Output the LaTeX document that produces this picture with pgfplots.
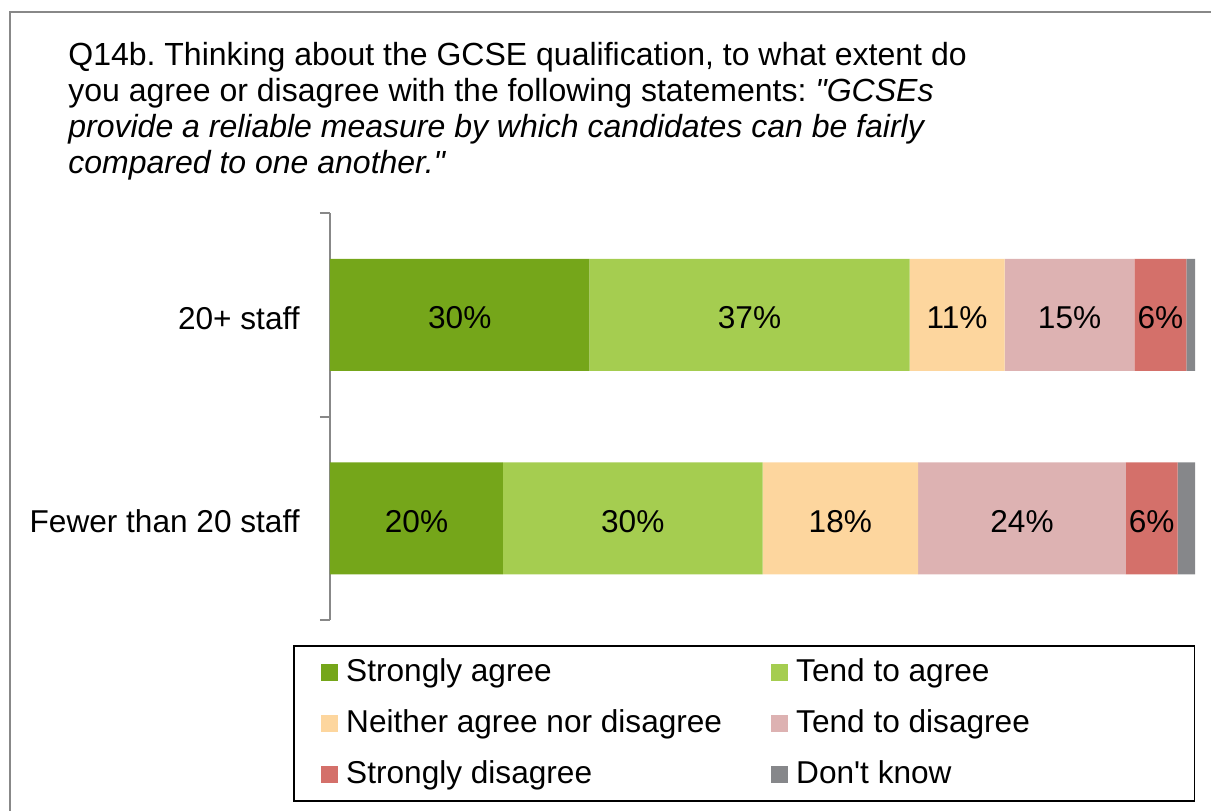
\documentclass[border=0pt]{standalone}
\usepackage{fontspec}
\setmainfont{Liberation Sans}
\usepackage{pgfplots}
\pgfplotsset{compat=1.18}

\definecolor{sagree}{HTML}{75A61A}
\definecolor{tagree}{HTML}{A5CD50}
\definecolor{neither}{HTML}{FDD69E}
\definecolor{tdis}{HTML}{DDB2B2}
\definecolor{sdis}{HTML}{D4706A}
\definecolor{dk}{HTML}{86878A}
\definecolor{frame}{HTML}{888888}

\newcommand\ff{\fontsize{15.8}{19}\selectfont}
\newcommand\tf{\fontsize{16}{19}\selectfont}

\pgfplotsset{
  sq legend/.style={legend image code/.code={\path (0pt,0pt); \fill[##1] (3.5pt,-4.5pt) rectangle (12pt,4pt);}},
  seg labels/.style={
    nodes near coords={\pgfmathprintnumber{\pgfplotspointmeta}\%},
    every node near coord/.style={anchor=center, yshift=-1.5pt, font=\ff, text=black}},
}

\begin{document}
\frenchspacing
\ff
\begin{tikzpicture}
\useasboundingbox (0,0) rectangle (605.5pt,-405pt);
\draw[frame, line width=1pt] (5pt,-406pt) -- (5pt,-6pt) -- (606pt,-6pt);

\node[anchor=base west, inner sep=0pt, font=\tf] at (34pt,-32.5pt) {Q14b. Thinking about the GCSE qualification, to what extent do};
\node[anchor=base west, inner sep=0pt, font=\tf] at (34pt,-50.5pt) {you agree or disagree with the following statements: \textit{\textquotedbl GCSEs}};
\node[anchor=base west, inner sep=0pt, font=\tf] at (34pt,-68.5pt) {\textit{provide a reliable measure by which candidates can be fairly}};
\node[anchor=base west, inner sep=0pt, font=\tf] at (34pt,-86.5pt) {\textit{compared to one another.\textquotedbl}};

\begin{axis}[
  at={(165pt,-310pt)}, anchor=south west,
  scale only axis, width=432.5pt, height=203.5pt,
  xbar stacked, bar width=56pt,
  xmin=0, xmax=100, ymin=-0.5, ymax=1.5,
  hide x axis,
  axis y line*=left,
  y axis line style={frame, line width=1pt},
  ytick={0,1},
  yticklabels={Fewer than 20 staff, 20+ staff},
  major tick length=0pt,
  yticklabel style={font=\ff, inner sep=0pt, xshift=-15pt, yshift=-1.5pt},
  extra y ticks={-0.5,0.5,1.5},
  extra y tick labels={},
  extra y tick style={major tick length=5pt, tick align=outside, tick style={frame, line width=1pt}},
  point meta=explicit,
  /pgf/number format/assume math mode=true,
  legend columns=2,
  legend style={at={(rel axis cs:1,0)}, anchor=north east, yshift=-12.5pt,
    draw=black, line width=0.75pt, font=\ff,
    inner xsep=10pt, inner ysep=5pt, row sep=9pt, column sep=4pt,
    /tikz/every even column/.append style={column sep=20pt},
    nodes={inner sep=0pt, text height=13pt, text depth=3.5pt}},
  legend cell align=left,
]
\addplot[fill=sagree, draw=none, sq legend, seg labels] coordinates {(20,0)[20] (30,1)[30]};
\addplot[fill=tagree, draw=none, sq legend, seg labels] coordinates {(30,0)[30] (37,1)[37]};
\addplot[fill=neither, draw=none, sq legend, seg labels] coordinates {(18,0)[18] (11,1)[11]};
\addplot[fill=tdis, draw=none, sq legend, seg labels] coordinates {(24,0)[24] (15,1)[15]};
\addplot[fill=sdis, draw=none, sq legend, seg labels] coordinates {(6,0)[6] (6,1)[6]};
\addplot[fill=dk, draw=none, sq legend] coordinates {(2,0)[2] (1,1)[1]};
\legend{Strongly agree, Tend to agree, \makebox[189pt][l]{Neither agree nor disagree}, \makebox[189pt][l]{Tend to disagree}, Strongly disagree, Don\textquotesingle t know}
\end{axis}
\end{tikzpicture}
\end{document}
